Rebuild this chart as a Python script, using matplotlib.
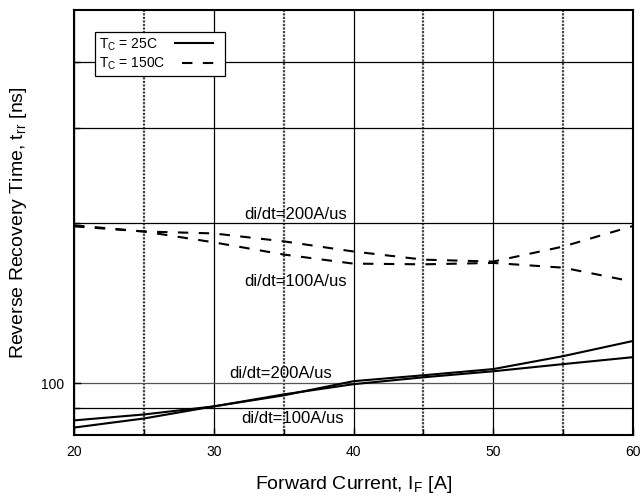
import matplotlib
matplotlib.use("Agg")
import matplotlib.pyplot as plt
from matplotlib.ticker import FixedLocator, NullFormatter

plt.rcParams["font.family"] = ["Liberation Sans", "DejaVu Sans"]
plt.rcParams["mathtext.fontset"] = "custom"
plt.rcParams["mathtext.rm"] = "Liberation Sans"

# forward current [A]
current = [20, 25, 30, 35, 40, 45, 50, 55, 60]

# Tc = 25C (solid)
trr_25_200 = [82.6, 85.9, 90.5, 94.9, 100.9, 103.5, 106.3, 112.4, 120.0]
trr_25_100 = [85.2, 87.4, 90.5, 95.3, 99.6, 102.6, 105.3, 108.6, 111.9]

# Tc = 150C (dashed)
trr_150_200 = [197.6, 192.4, 190.8, 184.4, 176.5, 170.4, 169.0, 180.3, 197.0]
trr_150_100 = [196.7, 192.4, 183.6, 174.2, 167.5, 167.0, 168.0, 164.6, 155.0]

x_major = [20, 30, 40, 50, 60]
x_minor = [25, 35, 45, 55]
y_major = [100]
y_minor = [90, 200, 300, 400]


def main():
    fig = plt.figure(figsize=(6.42, 4.96), dpi=100)
    ax = fig.add_axes([0.1153, 0.123, 0.8707, 0.8568])

    ax.set_yscale("log")
    ax.set_xlim(20, 60)
    ax.set_ylim(80, 500)

    # grid
    ax.xaxis.set_major_locator(FixedLocator(x_major))
    ax.xaxis.set_minor_locator(FixedLocator(x_minor))
    ax.yaxis.set_major_locator(FixedLocator(y_major))
    ax.yaxis.set_minor_locator(FixedLocator(y_minor))
    ax.yaxis.set_major_formatter(plt.FixedFormatter(["100"]))
    ax.yaxis.set_minor_formatter(NullFormatter())

    ax.xaxis.grid(True, which="major", color="black", lw=0.9, ls="-")
    ax.xaxis.grid(True, which="minor", color="#444444", lw=1.6, ls=(0, (1, 0.6)))
    ax.yaxis.grid(True, which="minor", color="black", lw=0.9, ls="-")
    ax.yaxis.grid(True, which="major", color="#555555", lw=0.9, ls="-")
    ax.set_axisbelow(True)

    ax.tick_params(which="both", direction="in", top=False, right=False,
                   labelsize=10, width=1.0, color="black")
    ax.tick_params(which="major", length=5, pad=7)
    ax.tick_params(which="minor", length=4)
    for sp in ax.spines.values():
        sp.set_linewidth(1.5)

    # curves
    ax.plot(current, trr_25_200, color="black", lw=1.5,
            label="T$_\\mathregular{C}$ = 25C")
    ax.plot(current, trr_25_100, color="black", lw=1.5)
    ax.plot(current, trr_150_200, color="black", lw=1.5, ls=(0, (5, 5)),
            label="T$_\\mathregular{C}$ = 150C")
    ax.plot(current, trr_150_100, color="black", lw=1.5, ls=(0, (5, 5)))

    # annotations
    ax.text(32.2, 207, "di/dt=200A/us", fontsize=12, va="center", ha="left")
    ax.text(32.2, 155, "di/dt=100A/us", fontsize=12, va="center", ha="left")
    ax.text(31.1, 104.4, "di/dt=200A/us", fontsize=12, va="center", ha="left")
    ax.text(32.0, 85.9, "di/dt=100A/us", fontsize=12, va="center", ha="left")

    leg = ax.legend(loc="upper left", bbox_to_anchor=(0.0375, 0.948),
                    fontsize=10, markerfirst=False, handlelength=2.8,
                    handletextpad=1.2, borderpad=0.3, labelspacing=0.2,
                    fancybox=False, framealpha=1, edgecolor="black",
                    borderaxespad=0)
    leg.get_frame().set_linewidth(0.9)
    # text left-aligned inside the box, like the datasheet
    for col in leg._legend_handle_box.get_children():
        col.align = "left"

    ax.set_xlabel("Forward Current, I$_\\mathregular{F}$ [A]", fontsize=14, labelpad=11)
    ax.set_ylabel("Reverse Recovery Time, t$_\\mathregular{rr}$ [ns]", fontsize=14, labelpad=9)

    fig.savefig("out.png", dpi=100)
    plt.close(fig)


if __name__ == "__main__":
    main()
